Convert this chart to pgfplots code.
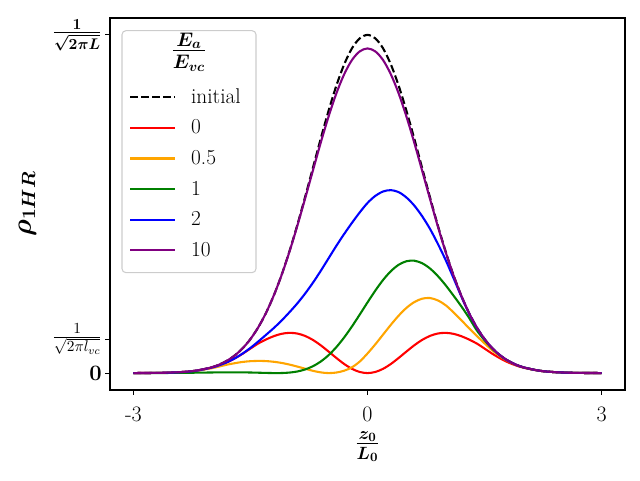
\RequirePackage{fix-cm}
\documentclass[border=0pt]{standalone}
\usepackage{amsmath}
\usepackage{pgfplots}
\pgfplotsset{compat=1.18}
\definecolor{mplorange}{RGB}{255,165,0}
\definecolor{mplgreen}{RGB}{0,128,0}
\definecolor{mplpurple}{RGB}{128,0,128}
\newcommand{\tickfont}{\fontsize{16.5}{20}\selectfont}
\newcommand{\legfont}{\fontsize{16}{19}\selectfont}
\newcommand{\xlabfont}{\fontsize{19}{23}\selectfont}
\newcommand{\ylabfont}{\fontsize{20.5}{24}\selectfont}
\newcommand{\titfont}{\fontsize{21}{25}\selectfont}
\begin{document}
\begin{tikzpicture}
\begin{axis}[
  name=ax,
  scale only axis,
  width=386.25pt, height=279pt,
  xmin=-3.3, xmax=3.3, ymin=-0.05, ymax=1.05,
  axis line style={line width=0.8pt},
  xtick={-3,0,3}, xticklabels={-3,0,3},
  ytick={0,0.1,1},
  yticklabels={$\mathbf{0}$,$\frac{1}{\sqrt{2\pi l_{vc}}}$,$\boldsymbol{\frac{1}{\sqrt{2\pi L}}}$},
  tick align=outside, tick pos=left, major tick length=3.65pt,
  major tick style={black, line width=0.8pt},
  tick label style={font=\tickfont},
  xticklabel style={inner sep=0pt, anchor=north, yshift=-9.1pt},
  yticklabel style={inner sep=0pt, anchor=east, xshift=-2.25pt},
  xlabel={$\boldsymbol{\frac{z_0}{L_0}}$},
  xlabel style={at={(axis description cs:0.5,-0.152)}, anchor=center, font=\xlabfont},
  ylabel={$\boldsymbol{\rho_{1HR}}$},
  ylabel style={at={(axis description cs:-0.1602,0.5)}, anchor=center, font=\ylabfont},
  legend style={draw=none, fill=none, at={(axis description cs:0.0369,0.8176)}, anchor=north west,
    inner sep=0pt, outer sep=0pt, row sep=6.9pt, column sep=9.75pt, font=\legfont},
  legend cell align=left,
  legend image post style={xscale=1.95},
  every axis plot/.append style={line width=1.5625pt},
]
\addplot[black, dash pattern=on 5.8pt off 2.5pt, smooth] coordinates {
(-3,0.0001) (-2.8,0.000335) (-2.6,0.00101) (-2.4,0.0028) (-2.2,0.00716) (-2,0.01688) (-1.9,0.02513) (-1.8,0.03666) (-1.7,0.05239) (-1.6,0.07337) (-1.5,0.10067) (-1.4,0.13534) (-1.3,0.17826) (-1.2,0.23006) (-1.1,0.2909) (-1,0.36044) (-0.9,0.43756) (-0.8,0.52045) (-0.7,0.60653) (-0.6,0.69257) (-0.5,0.77483) (-0.4,0.84936) (-0.3,0.91226) (-0.2,0.96001) (-0.1,0.98985) (0,1) (0.1,0.98985) (0.2,0.96001) (0.3,0.91226) (0.4,0.84936) (0.5,0.77483) (0.6,0.69257) (0.7,0.60653) (0.8,0.52045) (0.9,0.43756) (1,0.36044) (1.1,0.2909) (1.2,0.23006) (1.3,0.17826) (1.4,0.13534) (1.5,0.10067) (1.6,0.07337) (1.7,0.05239) (1.8,0.03666) (1.9,0.02513) (2,0.01688) (2.2,0.00716) (2.4,0.0028) (2.6,0.00101) (2.8,0.000335) (3,0.0001)
};
\addlegendentry{initial}

\addplot[red, smooth] coordinates {
(-3,0.0001) (-2.8,0.00033) (-2.6,0.001) (-2.4,0.0028) (-2.2,0.0069) (-2,0.0159) (-1.9,0.0229) (-1.8,0.0319) (-1.7,0.0435) (-1.6,0.0572) (-1.5,0.0725) (-1.4,0.0875) (-1.3,0.0994) (-1.2,0.1093) (-1.1,0.1162) (-1,0.1190) (-0.9,0.1170) (-0.8,0.1099) (-0.7,0.0981) (-0.6,0.0823) (-0.5,0.0639) (-0.4,0.0449) (-0.3,0.0271) (-0.2,0.0127) (-0.1,0.0033) (0,0) (0.1,0.0033) (0.2,0.0127) (0.3,0.0271) (0.4,0.0449) (0.5,0.0639) (0.6,0.0823) (0.7,0.0981) (0.8,0.1099) (0.9,0.1170) (1,0.1190) (1.1,0.1162) (1.2,0.1093) (1.3,0.0994) (1.4,0.0875) (1.5,0.0725) (1.6,0.0572) (1.7,0.0435) (1.8,0.0319) (1.9,0.0229) (2,0.0159) (2.2,0.0069) (2.4,0.0028) (2.6,0.001) (2.8,0.00033) (3,0.0001)
};
\addlegendentry{0}

\addplot[mplorange, smooth] coordinates {
(-3,0.0001) (-2.8,0.00033) (-2.6,0.001) (-2.4,0.0027) (-2.2,0.0066) (-2,0.0143) (-1.9,0.0195) (-1.8,0.0249) (-1.7,0.0293) (-1.6,0.0330) (-1.5,0.0352) (-1.4,0.0360) (-1.3,0.0355) (-1.2,0.0334) (-1.1,0.0300) (-1,0.0252) (-0.9,0.0193) (-0.8,0.0130) (-0.7,0.0067) (-0.6,0.0021) (-0.5,0.0) (-0.4,0.0016) (-0.3,0.007) (-0.2,0.017) (-0.1,0.034) (0,0.058) (0.1,0.085) (0.2,0.114) (0.3,0.143) (0.4,0.170) (0.5,0.193) (0.6,0.210) (0.7,0.220) (0.8,0.222) (0.9,0.215) (1,0.201) (1.1,0.180) (1.2,0.157) (1.3,0.133) (1.4,0.110) (1.5,0.088) (1.6,0.067) (1.7,0.0495) (1.8,0.0355) (1.9,0.0247) (2,0.0167) (2.2,0.0071) (2.4,0.0028) (2.6,0.001) (2.8,0.00033) (3,0.0001)
};
\addlegendentry{0.5}

\addplot[mplgreen, smooth] coordinates {
(-3,0.00005) (-2.8,0.00014) (-2.6,0.00032) (-2.4,0.00066) (-2.2,0.00118) (-2,0.00181) (-1.9,0.00209) (-1.8,0.00228) (-1.7,0.00231) (-1.6,0.00214) (-1.5,0.00174) (-1.4,0.00115) (-1.3,0.0005) (-1.2,0.00004) (-1.1,0.00019) (-1,0.00151) (-0.9,0.00473) (-0.8,0.01068) (-0.7,0.0202) (-0.6,0.03405) (-0.5,0.05277) (-0.4,0.07655) (-0.3,0.10512) (-0.2,0.13767) (-0.1,0.1729) (0,0.2090) (0.1,0.2439) (0.2,0.2755) (0.3,0.3015) (0.4,0.3204) (0.5,0.3308) (0.6,0.3323) (0.7,0.3249) (0.8,0.3095) (0.9,0.2873) (1,0.2602) (1.1,0.2298) (1.2,0.1982) (1.3,0.1640) (1.4,0.1265) (1.5,0.0971) (1.6,0.0719) (1.7,0.0519) (1.8,0.0365) (1.9,0.0250) (2,0.0168) (2.2,0.00715) (2.4,0.0028) (2.6,0.001) (2.8,0.000335) (3,0.0001)
};
\addlegendentry{1}

\addplot[blue, smooth] coordinates {
(-3,0.0001) (-2.8,0.00033) (-2.6,0.001) (-2.4,0.00274) (-2.2,0.00695) (-2,0.01604) (-1.9,0.0230) (-1.8,0.03226) (-1.7,0.04375) (-1.6,0.05796) (-1.5,0.0745) (-1.4,0.09338) (-1.3,0.1132) (-1.2,0.1334) (-1.1,0.1556) (-1,0.180) (-0.9,0.206) (-0.8,0.235) (-0.7,0.267) (-0.6,0.302) (-0.5,0.339) (-0.4,0.376) (-0.3,0.411) (-0.2,0.444) (-0.1,0.475) (0,0.503) (0.1,0.524) (0.2,0.537) (0.3,0.541) (0.4,0.535) (0.5,0.519) (0.6,0.4952) (0.7,0.4640) (0.8,0.4268) (0.9,0.3829) (1,0.3352) (1.1,0.2822) (1.2,0.2278) (1.3,0.1774) (1.4,0.1347) (1.5,0.1004) (1.6,0.0732) (1.7,0.0523) (1.8,0.0366) (1.9,0.0251) (2,0.0169) (2.2,0.00716) (2.4,0.0028) (2.6,0.00101) (2.8,0.000335) (3,0.0001)
};
\addlegendentry{2}

\addplot[mplpurple, smooth] coordinates {
(-3,0.0001) (-2.8,0.000335) (-2.6,0.00101) (-2.4,0.0028) (-2.2,0.00716) (-2,0.01688) (-1.9,0.02513) (-1.8,0.03666) (-1.7,0.05239) (-1.6,0.07337) (-1.5,0.10067) (-1.4,0.13534) (-1.3,0.17826) (-1.2,0.2301) (-1.1,0.2903) (-1,0.3590) (-0.9,0.4349) (-0.8,0.5158) (-0.7,0.5986) (-0.6,0.6808) (-0.5,0.7578) (-0.4,0.8264) (-0.3,0.8831) (-0.2,0.9254) (-0.1,0.9512) (0,0.96) (0.1,0.9512) (0.2,0.9254) (0.3,0.8831) (0.4,0.8264) (0.5,0.7578) (0.6,0.6808) (0.7,0.5986) (0.8,0.5158) (0.9,0.4349) (1,0.3590) (1.1,0.2903) (1.2,0.2301) (1.3,0.17826) (1.4,0.13534) (1.5,0.10067) (1.6,0.07337) (1.7,0.05239) (1.8,0.03666) (1.9,0.02513) (2,0.01688) (2.2,0.00716) (2.4,0.0028) (2.6,0.00101) (2.8,0.000335) (3,0.0001)
};
\addlegendentry{10}
\end{axis}
\draw[black!20, line width=0.8pt, rounded corners=3pt] ([xshift=9pt,yshift=88pt]ax.south west) rectangle ([xshift=109.5pt,yshift=269.5pt]ax.south west);
\node[font=\titfont] at ([xshift=59.25pt,yshift=253.5pt]ax.south west) {$\boldsymbol{\frac{E_a}{E_{vc}}}$};
\path ([xshift=-82.5pt,yshift=-67.5pt]ax.south west) rectangle ([xshift=11.25pt,yshift=13.5pt]ax.north east);
\end{tikzpicture}
\end{document}
